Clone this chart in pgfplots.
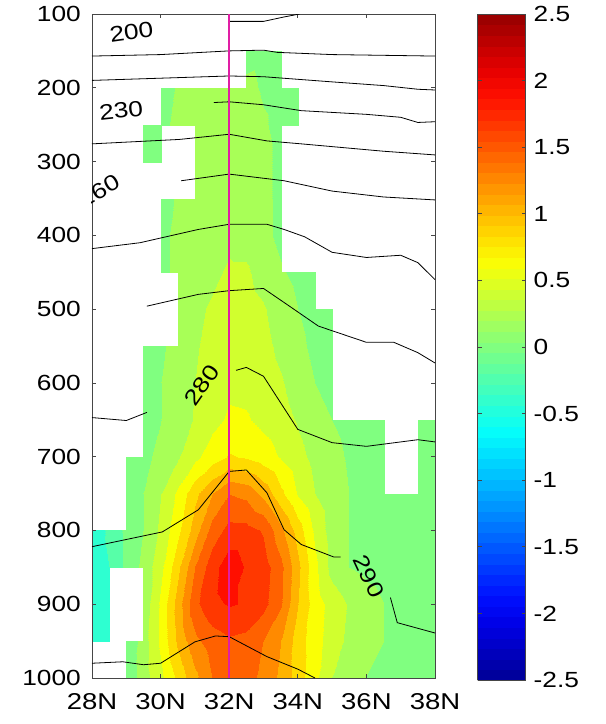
\documentclass[border=0pt]{standalone}
\usepackage{fontspec}
\setmainfont{Liberation Sans}[FakeStretch=1.2]
\usepackage{pgfplots}
\pgfplotsset{compat=1.18}
\definecolor{axgray}{RGB}{70,70,70}
\definecolor{magline}{RGB}{225,30,165}
\newcommand\tfont{\fontsize{22}{26}\selectfont}
\pgfplotsset{colormap={jetb}{rgb255=(0,0,148) rgb255=(0,0,189) rgb255=(0,0,230) rgb255=(0,15,255) rgb255=(0,56,255) rgb255=(0,97,255) rgb255=(0,138,255) rgb255=(0,179,255) rgb255=(0,219,255) rgb255=(5,255,250) rgb255=(46,255,209) rgb255=(87,255,168) rgb255=(128,255,128) rgb255=(168,255,87) rgb255=(209,255,46) rgb255=(250,255,5) rgb255=(255,219,0) rgb255=(255,179,0) rgb255=(255,138,0) rgb255=(255,97,0) rgb255=(255,56,0) rgb255=(255,15,0) rgb255=(230,0,0) rgb255=(189,0,0) rgb255=(148,0,0)}}
\begin{document}
\begin{tikzpicture}
\useasboundingbox (-92bp,-46bp) rectangle (514bp,678bp);
% filled field (3D surface seen from above, holes where data are missing)
\begin{axis}[
  view={0}{90},
  scale only axis, width=343bp, height=664bp,
  xmin=28, xmax=38, ymin=100, ymax=1000, zmin=-3, zmax=3,
  y dir=reverse, hide axis,
  unbounded coords=jump,
  point meta min=-2.5, point meta max=2.5,
  colormap name=jetb,
]
\addplot3[surf, shader=interp, colormap access=piecewise constant, mesh/cols=21, mesh/rows=19] coordinates {
(28,100,nan) (28.5,100,nan) (29,100,nan) (29.5,100,nan) (30,100,nan) (30.5,100,nan) (31,100,nan) (31.5,100,nan) (32,100,nan) (32.5,100,nan) (33,100,nan) (33.5,100,nan) (34,100,nan) (34.5,100,nan) (35,100,nan) (35.5,100,nan) (36,100,nan) (36.5,100,nan) (37,100,nan) (37.5,100,nan) (38,100,nan)
(28,150,nan) (28.5,150,nan) (29,150,nan) (29.5,150,nan) (30,150,nan) (30.5,150,nan) (31,150,nan) (31.5,150,nan) (32,150,nan) (32.5,150,0.02) (33,150,0.05) (33.5,150,0.02) (34,150,nan) (34.5,150,nan) (35,150,nan) (35.5,150,nan) (36,150,nan) (36.5,150,nan) (37,150,nan) (37.5,150,nan) (38,150,nan)
(28,200,nan) (28.5,200,nan) (29,200,nan) (29.5,200,nan) (30,200,0.02) (30.5,200,0.12) (31,200,0.2) (31.5,200,0.2) (32,200,0.2) (32.5,200,0.15) (33,200,0.08) (33.5,200,0.05) (34,200,0.0) (34.5,200,0.0) (35,200,nan) (35.5,200,nan) (36,200,nan) (36.5,200,nan) (37,200,nan) (37.5,200,nan) (38,200,nan)
(28,250,nan) (28.5,250,nan) (29,250,nan) (29.5,250,0.0) (30,250,0.05) (30.5,250,0.15) (31,250,0.2) (31.5,250,0.2) (32,250,0.2) (32.5,250,0.2) (33,250,0.12) (33.5,250,0.05) (34,250,0.0) (34.5,250,nan) (35,250,nan) (35.5,250,nan) (36,250,nan) (36.5,250,nan) (37,250,nan) (37.5,250,nan) (38,250,nan)
(28,300,nan) (28.5,300,nan) (29,300,nan) (29.5,300,0.0) (30,300,0.05) (30.5,300,nan) (31,300,0.18) (31.5,300,0.2) (32,300,0.22) (32.5,300,0.2) (33,300,0.15) (33.5,300,0.05) (34,300,nan) (34.5,300,nan) (35,300,nan) (35.5,300,nan) (36,300,nan) (36.5,300,nan) (37,300,nan) (37.5,300,nan) (38,300,nan)
(28,350,nan) (28.5,350,nan) (29,350,nan) (29.5,350,nan) (30,350,0.05) (30.5,350,0.12) (31,350,0.2) (31.5,350,0.2) (32,350,0.22) (32.5,350,0.2) (33,350,0.15) (33.5,350,0.05) (34,350,nan) (34.5,350,nan) (35,350,nan) (35.5,350,nan) (36,350,nan) (36.5,350,nan) (37,350,nan) (37.5,350,nan) (38,350,nan)
(28,400,nan) (28.5,400,nan) (29,400,nan) (29.5,400,nan) (30,400,0.05) (30.5,400,0.15) (31,400,0.2) (31.5,400,0.22) (32,400,0.25) (32.5,400,0.22) (33,400,0.15) (33.5,400,0.05) (34,400,nan) (34.5,400,nan) (35,400,nan) (35.5,400,nan) (36,400,nan) (36.5,400,nan) (37,400,nan) (37.5,400,nan) (38,400,nan)
(28,450,nan) (28.5,450,nan) (29,450,nan) (29.5,450,-0.05) (30,450,0.05) (30.5,450,0.15) (31,450,0.2) (31.5,450,0.25) (32,450,0.33) (32.5,450,0.33) (33,450,0.22) (33.5,450,0.12) (34,450,0.05) (34.5,450,0.0) (35,450,nan) (35.5,450,nan) (36,450,nan) (36.5,450,nan) (37,450,nan) (37.5,450,nan) (38,450,nan)
(28,500,nan) (28.5,500,nan) (29,500,nan) (29.5,500,0.0) (30,500,nan) (30.5,500,0.15) (31,500,0.25) (31.5,500,0.33) (32,500,0.38) (32.5,500,0.38) (33,500,0.32) (33.5,500,0.2) (34,500,0.1) (34.5,500,0.02) (35,500,0.0) (35.5,500,nan) (36,500,nan) (36.5,500,nan) (37,500,nan) (37.5,500,nan) (38,500,nan)
(28,550,nan) (28.5,550,nan) (29,550,nan) (29.5,550,0.0) (30,550,0.08) (30.5,550,0.15) (31,550,0.28) (31.5,550,0.36) (32,550,0.42) (32.5,550,0.42) (33,550,0.36) (33.5,550,0.25) (34,550,0.15) (34.5,550,0.05) (35,550,0.0) (35.5,550,nan) (36,550,nan) (36.5,550,nan) (37,550,nan) (37.5,550,nan) (38,550,nan)
(28,600,nan) (28.5,600,nan) (29,600,nan) (29.5,600,0.0) (30,600,0.1) (30.5,600,0.2) (31,600,0.3) (31.5,600,0.4) (32,600,0.46) (32.5,600,0.45) (33,600,0.4) (33.5,600,0.32) (34,600,0.2) (34.5,600,0.1) (35,600,0.02) (35.5,600,nan) (36,600,nan) (36.5,600,nan) (37,600,nan) (37.5,600,nan) (38,600,nan)
(28,650,nan) (28.5,650,nan) (29,650,nan) (29.5,650,0.0) (30,650,0.1) (30.5,650,0.2) (31,650,0.32) (31.5,650,0.44) (32,650,0.53) (32.5,650,0.52) (33,650,0.45) (33.5,650,0.38) (34,650,0.28) (34.5,650,0.18) (35,650,0.1) (35.5,650,0.05) (36,650,0.02) (36.5,650,0.0) (37,650,0.0) (37.5,650,0.0) (38,650,0.0)
(28,700,nan) (28.5,700,nan) (29,700,0.0) (29.5,700,0.05) (30,700,0.15) (30.5,700,0.28) (31,700,0.45) (31.5,700,0.6) (32,700,0.72) (32.5,700,0.68) (33,700,0.6) (33.5,700,0.48) (34,700,0.36) (34.5,700,0.24) (35,700,0.15) (35.5,700,0.08) (36,700,0.04) (36.5,700,0.02) (37,700,nan) (37.5,700,0.0) (38,700,0.0)
(28,750,-0.4) (28.5,750,nan) (29,750,-0.05) (29.5,750,0.1) (30,750,0.3) (30.5,750,0.55) (31,750,0.85) (31.5,750,1.1) (32,750,1.3) (32.5,750,1.25) (33,750,1.05) (33.5,750,0.75) (34,750,0.48) (34.5,750,0.3) (35,750,0.18) (35.5,750,0.1) (36,750,0.06) (36.5,750,0.03) (37,750,0.0) (37.5,750,0.0) (38,750,0.0)
(28,800,-0.45) (28.5,800,-0.25) (29,800,-0.05) (29.5,800,0.1) (30,800,0.35) (30.5,800,0.65) (31,800,1.0) (31.5,800,1.38) (32,800,1.57) (32.5,800,1.57) (33,800,1.48) (33.5,800,1.15) (34,800,0.8) (34.5,800,0.45) (35,800,0.2) (35.5,800,0.1) (36,800,0.05) (36.5,800,0.02) (37,800,0.0) (37.5,800,0.0) (38,800,0.0)
(28,850,-0.45) (28.5,850,-0.3) (29,850,-0.05) (29.5,850,0.15) (30,850,0.45) (30.5,850,0.85) (31,850,1.3) (31.5,850,1.62) (32,850,1.82) (32.5,850,1.68) (33,850,1.6) (33.5,850,1.35) (34,850,0.95) (34.5,850,0.55) (35,850,0.22) (35.5,850,0.1) (36,850,0.05) (36.5,850,0.02) (37,850,0.0) (37.5,850,0.0) (38,850,0.02)
(28,900,-0.45) (28.5,900,-0.35) (29,900,nan) (29.5,900,0.15) (30,900,0.55) (30.5,900,1.0) (31,900,1.45) (31.5,900,1.65) (32,900,1.72) (32.5,900,1.68) (33,900,1.57) (33.5,900,1.32) (34,900,0.9) (34.5,900,0.6) (35,900,0.42) (35.5,900,0.28) (36,900,0.18) (36.5,900,0.1) (37,900,0.05) (37.5,900,0.04) (38,900,0.05)
(28,950,-0.4) (28.5,950,-0.3) (29,950,-0.1) (29.5,950,0.2) (30,950,0.55) (30.5,950,0.95) (31,950,1.25) (31.5,950,1.4) (32,950,1.47) (32.5,950,1.44) (33,950,1.3) (33.5,950,1.1) (34,950,0.8) (34.5,950,0.58) (35,950,0.4) (35.5,950,0.25) (36,950,0.15) (36.5,950,0.1) (37,950,0.05) (37.5,950,0.05) (38,950,0.05)
(28,1000,-0.35) (28.5,1000,nan) (29,1000,-0.05) (29.5,1000,0.2) (30,1000,0.45) (30.5,1000,0.75) (31,1000,1.05) (31.5,1000,1.3) (32,1000,1.4) (32.5,1000,1.38) (33,1000,1.25) (33.5,1000,1.05) (34,1000,0.8) (34.5,1000,0.55) (35,1000,0.3) (35.5,1000,0.2) (36,1000,0.1) (36.5,1000,0.05) (37,1000,0.05) (37.5,1000,0.02) (38,1000,0.0)
};
\end{axis}
% frame, ticks, contours, section line, labels, colour bar
\begin{axis}[
  scale only axis, width=343bp, height=664bp,
  xmin=28, xmax=38, ymin=100, ymax=1000,
  y dir=reverse,
  xtick={28,30,32,34,36,38}, xticklabels={28N,30N,32N,34N,36N,38N},
  ytick={100,200,300,400,500,600,700,800,900,1000},
  yticklabels={100,200,300,400,500,600,700,800,900,1000},
  tick align=inside, major tick length=4bp,
  axis line style={draw=axgray, line width=0.7bp},
  every tick/.style={draw=axgray, line width=0.7bp},
  xticklabel style={font=\fontsize{23}{27}\selectfont, inner sep=0pt, yshift=-15bp},
  yticklabel style={font=\tfont, inner sep=0pt, xshift=-11bp},
  point meta min=-2.5, point meta max=2.5,
  colormap name=jetb,
  colorbar sampled,
  colorbar style={
    at={(parent axis.north east)}, anchor=north west, xshift=34bp,
    scale only axis, width=48bp, height=666bp,
    samples=64,
    xmin=0, xmax=1,
    ytick={-2.5,-2,-1.5,-1,-0.5,0,0.5,1,1.5,2,2.5},
    yticklabels={-2.5,-2,-1.5,-1,-0.5,0,0.5,1,1.5,2,2.5},
    yticklabel style={font=\tfont, inner sep=0pt, xshift=8bp},
    axis line style={draw=axgray, line width=0.7bp},
    every tick/.style={draw=axgray, line width=0.7bp},
    major tick length=4bp, tick align=inside,
  },
]
\addplot[black, line width=0.8bp] coordinates {(32,110) (33,110) (33.6,104) (34.05,100)};
\addplot[black, line width=0.8bp] coordinates {(28,157) (30,155) (32,150) (33,149) (33.4,152) (35,155) (38,157)};
\addplot[black, line width=0.8bp] coordinates {(28,190) (30,187) (32,184) (33,185) (35,192) (36.5,197) (37.5,202) (38,203)};
\addplot[black, line width=0.8bp] coordinates {(31.55,220) (32,219) (33,223) (34.1,231) (36,236) (37,240) (37.5,247) (38,246)};
\addplot[black, line width=0.8bp] coordinates {(28,276) (30.55,270) (32,263) (33.1,272) (34.1,276) (36.5,286) (38,291)};
\addplot[black, line width=0.8bp] coordinates {(30.6,326) (32,317) (33.6,326) (35,340) (36.5,348) (38,352)};
\addplot[black, line width=0.8bp] coordinates {(28,418) (29.4,410) (31.1,392) (32,385) (33.1,385) (33.6,392) (34.2,402) (35,423) (36,430) (37,427) (37.5,437) (38,460)};
\addplot[black, line width=0.8bp] coordinates {(29.6,496) (31.1,480) (32,475) (33,472) (33.6,491) (34.6,523) (36,545) (36.8,545) (37.5,559) (38,573)};
\addplot[black, line width=0.8bp] coordinates {(28,647) (29,651) (29.6,640)};
\addplot[black, line width=0.8bp] coordinates {(32.2,583) (32.5,579) (33,591) (34,663) (35,681) (36,686) (37.5,677) (38,680)};
\addplot[black, line width=0.8bp] coordinates {(28,822) (30.05,802) (31.1,772) (32,720) (32.5,718) (33.1,749) (33.6,799) (34.1,819) (35.05,836) (35.25,836)};
\addplot[black, line width=0.8bp] coordinates {(36.7,891) (36.9,925) (38,939)};
\addplot[black, line width=0.8bp] coordinates {(28,980) (28.9,978) (29.5,982) (30,980) (31,951) (31.6,943) (32,944) (33.1,971) (34,988) (34.5,1000)};
\addplot[magline, line width=2.5bp] coordinates {(32,100) (32,1000)};
\node[font=\tfont, rotate=8] at (axis cs:29.15,125) {200};
\node[font=\tfont, rotate=6] at (axis cs:28.85,231) {230};
\node[font=\tfont, rotate=30] at (axis cs:28.2,340) {260};
\node[font=\tfont, rotate=55] at (axis cs:31.2,603) {280};
\node[font=\tfont, rotate=-65] at (axis cs:36.07,862) {290};
\end{axis}
\end{tikzpicture}
\end{document}
